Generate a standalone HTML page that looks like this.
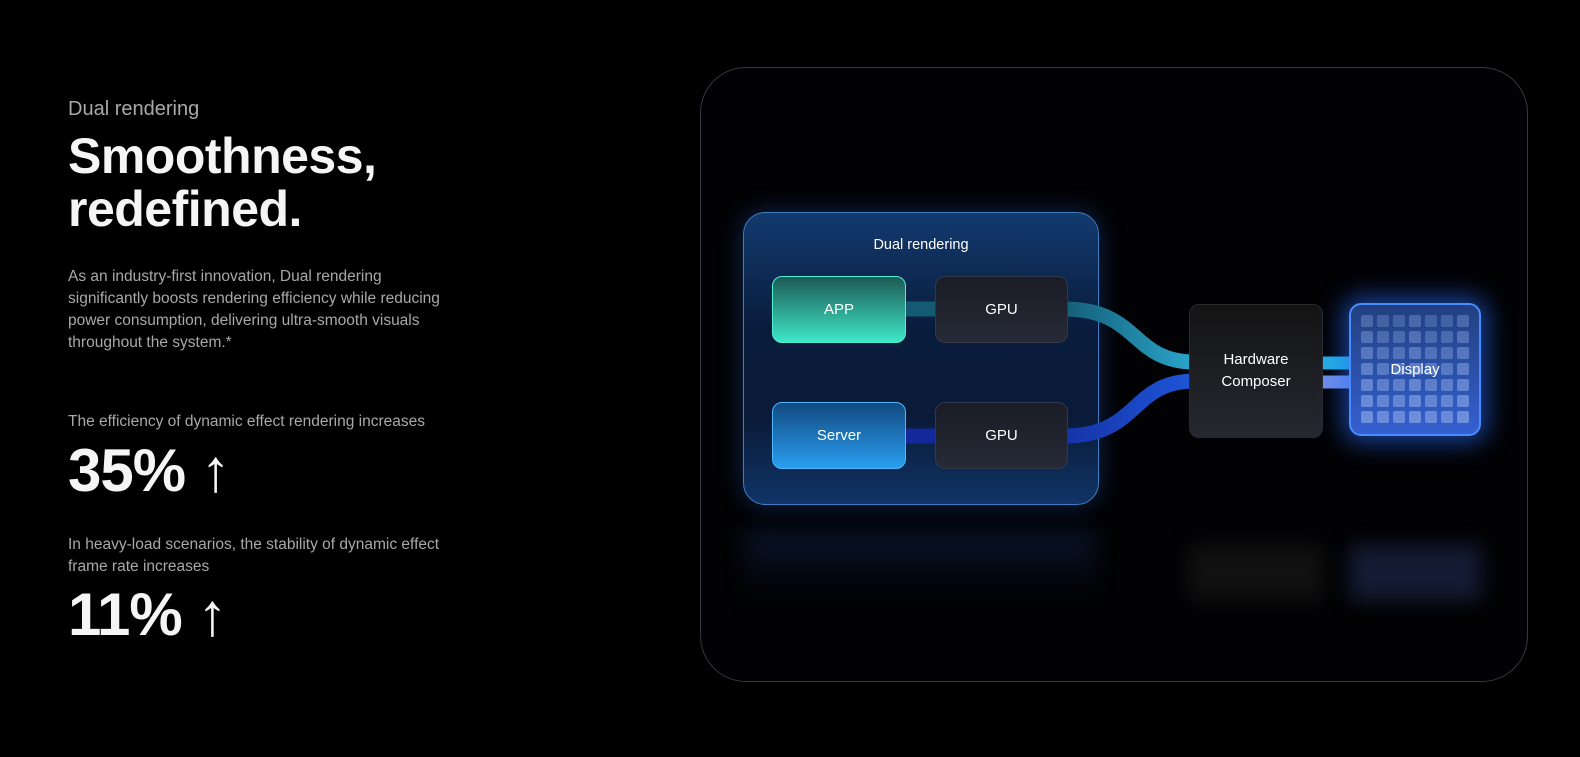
<!DOCTYPE html>
<html><head><meta charset="utf-8"><style>
*{margin:0;padding:0;box-sizing:border-box}
body{width:1580px;height:757px;background:#000;font-family:"Liberation Sans",sans-serif;position:relative;overflow:hidden;color:#fff}
.a{position:absolute}
.t{position:absolute;left:68px;white-space:nowrap}
.node{position:absolute;border-radius:10px;display:flex;align-items:center;justify-content:center;font-size:15px;color:#fff;text-align:center;line-height:22px}
</style></head><body>
<div class="t" style="top:98px;font-size:20px;color:#a8a8a8">Dual rendering</div>
<div class="t" style="top:130px;font-size:50px;font-weight:bold;line-height:53px;color:#f5f5f5;letter-spacing:-0.5px">Smoothness,<br>redefined.</div>
<div class="t" style="top:266px;font-size:15.5px;line-height:22px;color:#a8a8a8">As an industry-first innovation, Dual rendering<br>significantly boosts rendering efficiency while reducing<br>power consumption, delivering ultra-smooth visuals<br>throughout the system.*</div>
<div class="t" style="top:413px;font-size:15.5px;color:#a8a8a8">The efficiency of dynamic effect rendering increases</div>
<div class="t" style="top:436px;font-size:60px;color:#f5f5f5;font-weight:bold;letter-spacing:-1px">35% ↑</div>
<div class="t" style="top:534px;font-size:15.5px;line-height:22px;color:#a8a8a8">In heavy-load scenarios, the stability of dynamic effect<br>frame rate increases</div>
<div class="t" style="top:580px;font-size:60px;color:#f5f5f5;font-weight:bold;letter-spacing:-1px">11% ↑</div>

<div class="a" style="left:700px;top:67px;width:828px;height:615px;border-radius:46px;border:1.5px solid #3a3542;background:#020204"></div>

<div class="a" style="left:745px;top:530px;width:350px;height:70px;background:linear-gradient(#0b1a35,#000);filter:blur(10px);opacity:.8"></div>
<div class="a" style="left:1189px;top:545px;width:134px;height:55px;background:#111;filter:blur(10px)"></div>
<div class="a" style="left:1349px;top:545px;width:132px;height:55px;background:#141c35;filter:blur(10px)"></div>

<div class="a" style="left:743px;top:212px;width:356px;height:293px;border-radius:22px;background:linear-gradient(180deg,#123a6e 0%,#0a1c3c 40%,#0a1a38 70%,#103466 100%);border:1.5px solid #3f7cc0;box-shadow:0 0 25px rgba(40,110,220,.35)"></div>
<div class="a" style="left:743px;top:237px;width:356px;text-align:center;font-size:14.5px;color:#fff">Dual rendering</div>

<svg class="a" style="left:0;top:0" width="1580" height="757">
<defs>
<linearGradient id="g1" x1="0" x2="1"><stop offset="0" stop-color="#155d78"/><stop offset="1" stop-color="#2aa7cc"/></linearGradient>
<linearGradient id="g2" x1="0" x2="1"><stop offset="0" stop-color="#1633a8"/><stop offset="1" stop-color="#1e56d8"/></linearGradient>
</defs>
<line x1="900" y1="309" x2="940" y2="309" stroke="#135a73" stroke-width="15"/>
<line x1="900" y1="436" x2="940" y2="436" stroke="#13289a" stroke-width="15"/>
<path d="M1064 309 C1140 309 1130 362 1195 362" stroke="url(#g1)" stroke-width="15" fill="none"/>
<path d="M1064 436 C1140 436 1130 381 1195 381" stroke="url(#g2)" stroke-width="15" fill="none"/>
<line x1="1318" y1="363" x2="1355" y2="363" stroke="#22aee0" stroke-width="13"/>
<line x1="1318" y1="382" x2="1355" y2="382" stroke="#6f8de8" stroke-width="13"/>
</svg>

<div class="node" style="left:772px;top:276px;width:134px;height:67px;background:linear-gradient(180deg,#1c5a54,#3ee8c8);border:1px solid #4ff0d0">APP</div>
<div class="node" style="left:935px;top:276px;width:133px;height:67px;background:linear-gradient(180deg,#1a1c26,#262a36);border:1px solid #333849">GPU</div>
<div class="node" style="left:772px;top:402px;width:134px;height:67px;background:linear-gradient(180deg,#114a80,#2a9ef0);border:1px solid #48b8ff">Server</div>
<div class="node" style="left:935px;top:402px;width:133px;height:67px;background:linear-gradient(180deg,#1a1c26,#262a36);border:1px solid #333849">GPU</div>
<div class="node" style="left:1189px;top:304px;width:134px;height:134px;background:linear-gradient(180deg,#141414,#262830);border:1px solid #2a2a2e">Hardware<br>Composer</div>

<div class="a" style="left:1349px;top:303px;width:132px;height:133px;border-radius:12px;background:linear-gradient(180deg,#22407f,#3560d0);border:2px solid #4a8cff;box-shadow:0 0 25px 6px rgba(40,110,255,.6)">
<div style="position:absolute;left:10px;top:10px;display:grid;grid-template-columns:repeat(7,12px);grid-auto-rows:12px;gap:4px">
<script>for(let r=0;r<7;r++)for(let c=0;c<7;c++){const o=.3+r*.05+(c%3?0:.06);document.write('<div style="border-radius:2px;background:rgba(140,170,230,'+o+')"></div>')}</script>
</div>
<div style="position:absolute;left:0;right:0;top:56px;text-align:center;font-size:15px">Display</div>
</div>
</body></html>
